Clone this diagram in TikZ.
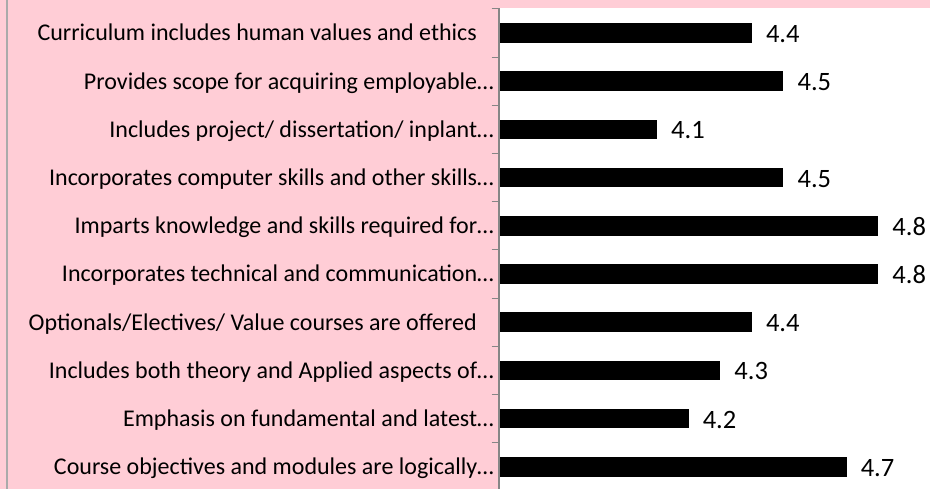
\documentclass[tikz,border=0pt]{standalone}
\usepackage{fontspec}
\setmainfont{Carlito}
\definecolor{chartpink}{RGB}{255,205,214}
\definecolor{axisgray}{RGB}{134,134,134}
\definecolor{framegray}{RGB}{170,170,170}
\tikzset{
  catlabel/.style={anchor=base east,inner sep=0pt,font=\fontsize{24}{28}\selectfont},
  vallabel/.style={anchor=base west,inner sep=0pt,font=\fontsize{26.5}{30}\selectfont},
  bar/.style={fill=black}
}

\begin{document}
\begin{tikzpicture}[x=1pt,y=1pt]
  \fill[chartpink] (0,0) rectangle (930,489);
  \useasboundingbox (0,0) rectangle (930,489);
  \fill[white] (499,0) rectangle (930,480.5);
  \draw[framegray,line width=1.5pt] (7,0) -- (7,489);
  \foreach \v/\txt [count=\i] in {
      4.4/{Curriculum includes human values and ethics\kern17pt},
      4.5/{Provides scope for acquiring employable…},
      4.1/{Includes project/ dissertation/ inplant…},
      4.5/{Incorporates computer skills and other skills…},
      4.8/{Imparts knowledge and skills required for…},
      4.8/{Incorporates technical and communication…},
      4.4/{Optionals/Electives/ Value courses are offered\kern17pt},
      4.3/{Includes both theory and Applied aspects of…},
      4.2/{Emphasis on fundamental and latest…},
      4.7/{Course objectives and modules are logically…}}
  {
    \pgfmathsetmacro{\yc}{456-(\i-1)*48.2}
    \pgfmathsetmacro{\xe}{499+(\v-3.6)*316}
    \fill[bar] (499,\yc-9.8) rectangle (\xe,\yc+9.8);
    \node[catlabel] (cat\i) at (494,\yc-8) {\txt};
    \node[vallabel] (val\i) at (\xe+14,\yc-9.5) {\v};
  }
  \draw[axisgray,line width=1.3pt] (499,480.5) -- (499,0);
  \foreach \k in {0,...,9}
    \draw[axisgray,line width=1pt] (491.5,480.1-48.2*\k) -- (499,480.1-48.2*\k);
\end{tikzpicture}
\end{document}
